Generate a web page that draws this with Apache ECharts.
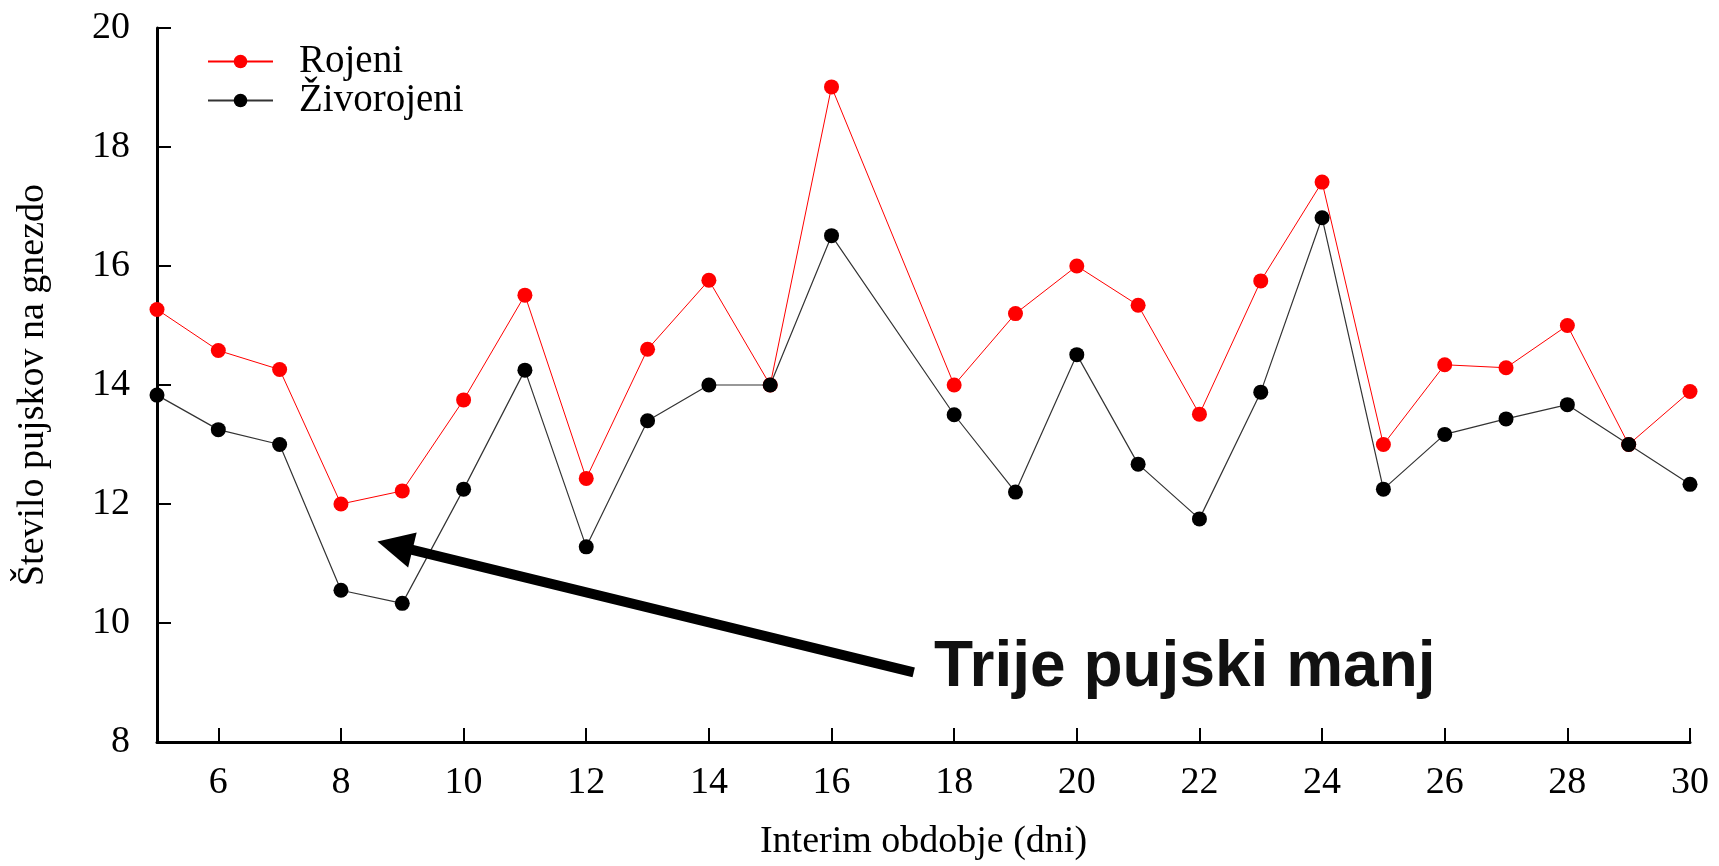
<!DOCTYPE html>
<html>
<head>
<meta charset="utf-8">
<script src="https://cdn.jsdelivr.net/npm/echarts@6/dist/echarts.min.js"></script>
<style>
html,body{margin:0;padding:0;background:#fff;}
#chart{width:1719px;height:866px;}
</style>
</head>
<body>
<div id="chart"></div>
<script>
// Interim period (days)
const days = [5,6,7,8,9,10,11,12,13,14,15,16,18,19,20,21,22,23,24,25,26,27,28,29,30];
// Born piglets per litter
const rojeni = [15.27,14.58,14.26,12.0,12.22,13.75,15.51,12.43,14.6,15.76,14.0,19.01,14.0,15.2,16.0,15.34,13.51,15.75,17.41,13.0,14.34,14.29,15.0,13.0,13.89];
// Live-born piglets per litter
const zivorojeni = [13.83,13.25,13.0,10.55,10.33,12.25,14.25,11.28,13.4,14.0,14.0,16.51,13.5,12.2,14.51,12.67,11.75,13.88,16.81,12.25,13.17,13.43,13.67,13.0,12.33];
const xTicks = [6,8,10,12,14,16,18,20,22,24,26,28,30];
const seriesNames = ['Rojeni','Živorojeni'];
const xAxisTitle = 'Interim obdobje (dni)';
const yAxisTitle = 'Število pujskov na gnezdo';
const annotationText = 'Trije pujski manj';
// arrow annotation in data coordinates: tail -> head
const arrowTail = [17.34, 9.17];
const arrowHead = [8.88, 11.30];

const serif = '"Liberation Serif", "Times New Roman", serif';
const chart = echarts.init(document.getElementById('chart'));

const pairs = arr => days.map((d, i) => [d, arr[i]]);

chart.setOption({
  animation: false,
  backgroundColor: '#fff',
  grid: { left: 157, right: 29, top: 28, bottom: 118, containLabel: false },
  legend: {
    orient: 'vertical',
    left: 207,
    top: 42,
    padding: 0,
    itemWidth: 65,
    itemHeight: 17,
    itemGap: 0,
    data: seriesNames,
    textStyle: { fontFamily: serif, fontSize: 39, color: '#000', lineHeight: 39, padding: [0, 0, 0, 21] }
  },
  xAxis: {
    type: 'value',
    min: 5,
    max: 30,
    name: xAxisTitle,
    nameLocation: 'middle',
    nameGap: 81,
    nameTextStyle: { fontFamily: serif, fontSize: 38, color: '#000' },
    axisLine: { show: true, onZero: false, lineStyle: { color: '#000', width: 3 } },
    axisTick: { show: true, inside: true, length: 14, customValues: xTicks, lineStyle: { color: '#000', width: 2 } },
    axisLabel: { customValues: xTicks, margin: 22, fontFamily: serif, fontSize: 38, color: '#000' },
    splitLine: { show: false }
  },
  yAxis: {
    type: 'value',
    min: 8,
    max: 20,
    interval: 2,
    name: yAxisTitle,
    nameLocation: 'middle',
    nameGap: 105,
    nameTextStyle: { fontFamily: serif, fontSize: 38, color: '#000' },
    axisLine: { show: true, lineStyle: { color: '#000', width: 3 } },
    axisTick: { show: true, inside: true, length: 14, lineStyle: { color: '#000', width: 2 } },
    axisLabel: { margin: 27, fontFamily: serif, fontSize: 38, color: '#000' },
    splitLine: { show: false }
  },
  series: [
    {
      name: seriesNames[0],
      type: 'line',
      data: pairs(rojeni),
      symbol: 'circle',
      symbolSize: 15,
      itemStyle: { color: '#ff0000' },
      lineStyle: { color: '#ff0000', width: 1 },
      emphasis: { disabled: true },
      markLine: {
        silent: true,
        label: { show: false },
        lineStyle: { color: '#000', width: 10, type: 'solid' },
        itemStyle: { color: '#000' },
        emphasis: { disabled: true },
        data: [[
          { coord: arrowTail, symbol: 'none', symbolSize: 0 },
          { coord: arrowHead, symbol: 'triangle', symbolSize: 36 }
        ]]
      }
    },
    {
      name: seriesNames[1],
      type: 'line',
      data: pairs(zivorojeni),
      symbol: 'circle',
      symbolSize: 15,
      itemStyle: { color: '#000000' },
      lineStyle: { color: '#333333', width: 1.2 },
      emphasis: { disabled: true }
    }
  ],
  graphic: [
    {
      type: 'text',
      x: 934,
      y: 668,
      style: {
        text: annotationText,
        font: 'bold 64px "Liberation Sans", Arial, sans-serif',
        fill: '#111',
        align: 'left',
        verticalAlign: 'middle'
      }
    }
  ]
});
</script>
</body>
</html>
